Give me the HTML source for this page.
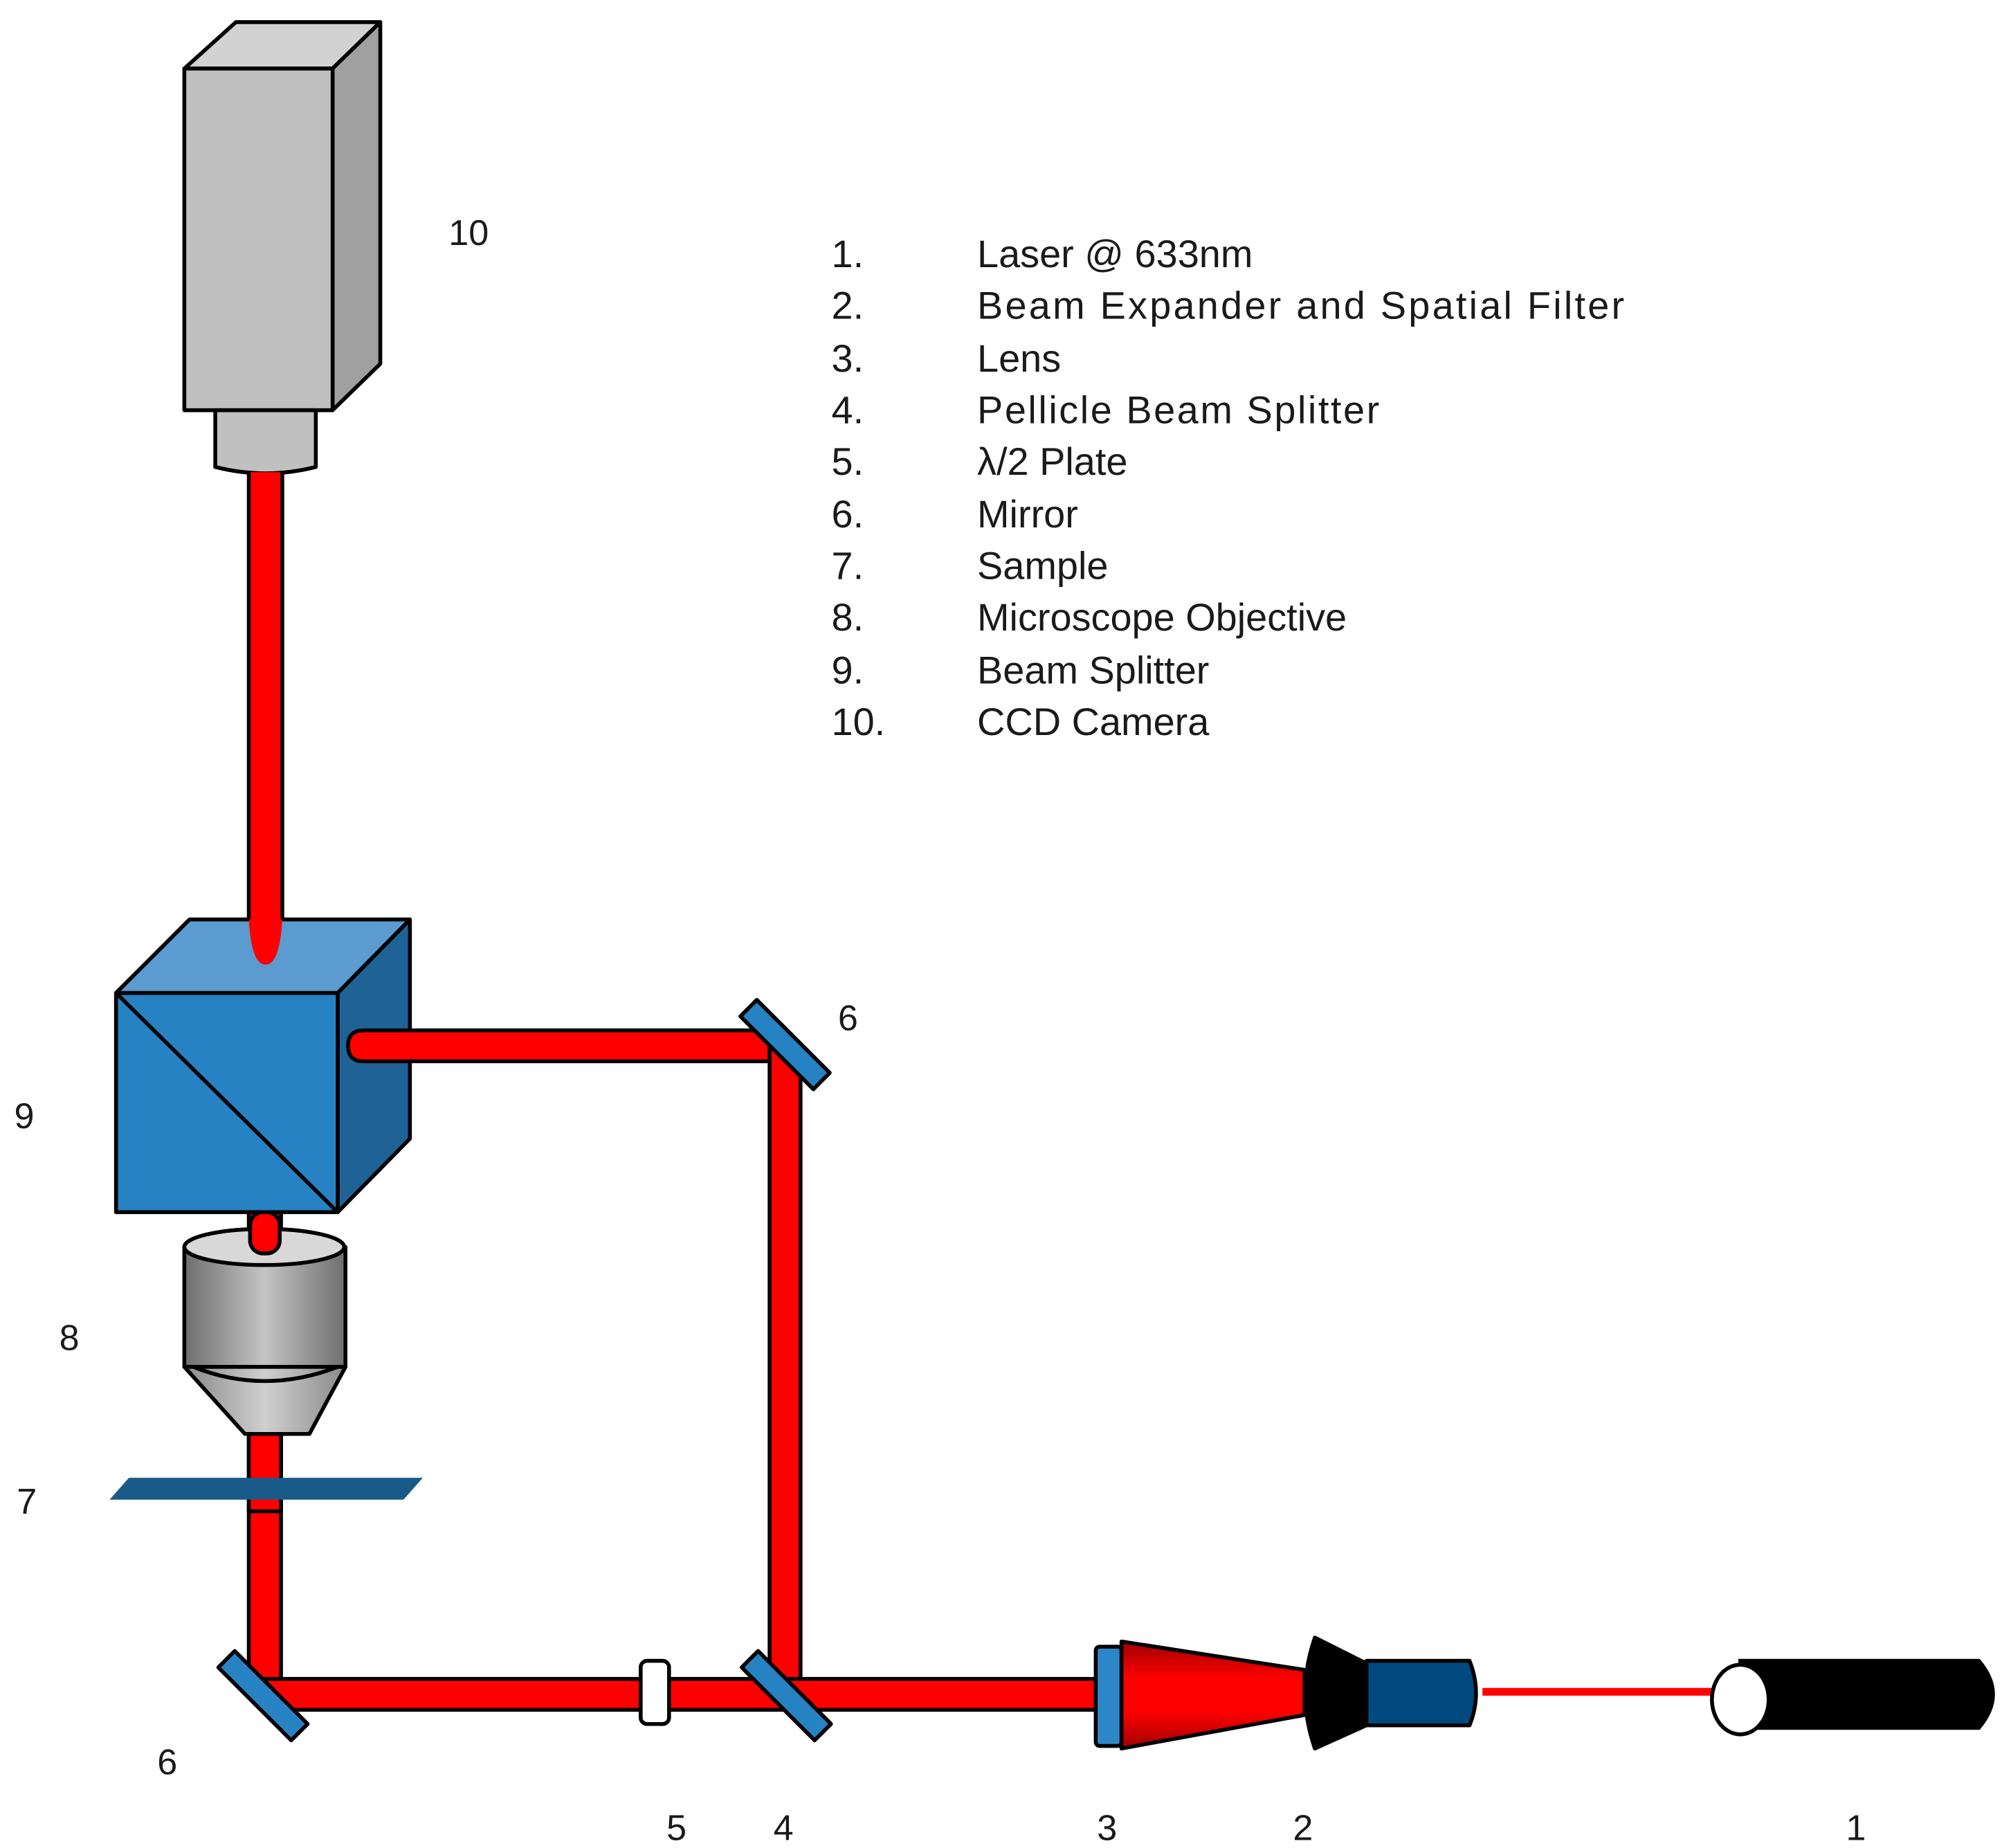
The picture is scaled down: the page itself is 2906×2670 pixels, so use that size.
<!DOCTYPE html>
<html><head><meta charset="utf-8"><style>
html,body{margin:0;padding:0;background:#fff;}
svg{display:block;}
text{font-family:"Liberation Sans",sans-serif;fill:#1a1a1a;}
</style></head><body>
<svg width="2906" height="2670" viewBox="0 0 1560 1433" xmlns="http://www.w3.org/2000/svg">
<defs>
<linearGradient id="cyl" x1="0" x2="1" y1="0" y2="0">
<stop offset="0" stop-color="#6e6e6e"/><stop offset="0.5" stop-color="#c4c4c4"/><stop offset="1" stop-color="#6e6e6e"/></linearGradient>
<linearGradient id="cone" x1="0" x2="1"><stop offset="0" stop-color="#8a8a8a"/><stop offset="0.5" stop-color="#cfcfcf"/><stop offset="1" stop-color="#8a8a8a"/></linearGradient>
<linearGradient id="redc" x1="0" x2="0" y1="0" y2="1"><stop offset="0" stop-color="#a00000"/><stop offset="0.35" stop-color="#ff0000"/><stop offset="0.65" stop-color="#ff0000"/><stop offset="1" stop-color="#a00000"/></linearGradient>
</defs>
<g stroke="#000" stroke-width="3" stroke-linejoin="round">
<!-- camera -->
<polygon points="143,53 183,17 295,17 258,53" fill="#d2d2d2"/>
<polygon points="258,53 295,17 295,282 258,318" fill="#a0a0a0"/>
<rect x="143" y="53" width="115" height="265" fill="#c0c0c0"/>
<path d="M167,318 L245,318 L245,362 Q206,372 167,362 Z" fill="#c0c0c0"/>
<!-- left lower vertical beam -->
<rect x="193" y="935" width="25" height="380" fill="#ff0000"/>
<!-- cube -->
<polygon points="90,770 147,713 318,713 262,770" fill="#5b9bd0"/>
<polygon points="262,770 318,713 318,883 262,940" fill="#1f6296"/>
<rect x="90" y="770" width="172" height="170" fill="#2682c2"/>
<line x1="90" y1="770" x2="262" y2="940"/>
<!-- vertical beam from camera into cube -->
<path d="M193,366 L219,366 L219,713 Q217,748 206,748 Q195,748 193,713 Z" fill="#ff0000" stroke="none"/>
<path d="M193,366 L193,713 M219,366 L219,713" fill="none"/>
<!-- upper horizontal beam -->
<path d="M282,799 L609,799 L609,823 L282,823 Q270,823 270,811 Q270,799 282,799 Z" fill="#ff0000"/>
<!-- right vertical beam -->
<rect x="597" y="811" width="24" height="503" fill="#ff0000"/>
<!-- bottom horizontal beam -->
<rect x="205" y="1302" width="650" height="24" fill="#ff0000"/>
<!-- objective -->
<path d="M143,967 L268,967 L268,1060 L143,1060 Z" fill="url(#cyl)"/>
<ellipse cx="205" cy="967" rx="62" ry="14" fill="#d8d8d8"/>
<rect x="194" y="940" width="23" height="32" rx="10" fill="#ff0000" stroke="#000"/>
<path d="M143,1060 L268,1060 L240,1112 L190,1112 Z" fill="url(#cone)"/>
<path d="M150,1060 Q205,1082 262,1060" fill="none"/>
<!-- sample -->
<rect x="193" y="1112" width="25" height="60" fill="#ff0000"/>
<polygon points="85,1163 100,1146 328,1146 313,1163" fill="#1a5a88" stroke="none"/>
<!-- mirrors -->
<rect x="569" y="801" width="80" height="18" fill="#2682c2" transform="rotate(45 609 810)"/>
<rect x="164" y="1306" width="80" height="18" fill="#2682c2" transform="rotate(45 204 1315)"/>
<rect x="570" y="1306" width="80" height="18" fill="#2682c2" transform="rotate(45 610 1315)"/>
<!-- plate 5 -->
<rect x="497" y="1288" width="22" height="49" rx="5" fill="#fff"/>
<!-- lens 3 -->
<rect x="850" y="1277" width="20" height="77" rx="3" fill="#2d86c8"/>
<!-- red cone -->
<polygon points="870,1273 1012,1295 1012,1330 870,1356" fill="url(#redc)"/>
<!-- spatial filter -->
<path d="M1020,1270 L1060,1290 L1060,1338 L1020,1356 Q1005,1313 1020,1270 Z" fill="#000"/>
<path d="M1060,1288 L1140,1288 Q1150,1313 1140,1338 L1060,1338 Z" fill="#004a80"/>
</g>
<!-- thin laser beam -->
<rect x="1150" y="1309" width="185" height="6" fill="#ff0000"/>
<!-- laser -->
<path d="M1350,1288 L1535,1288 Q1557,1314 1535,1340 L1350,1340 Z" fill="#000" stroke="#000" stroke-width="3"/>
<ellipse cx="1350" cy="1318" rx="22" ry="27" fill="#fff" stroke="#000" stroke-width="3"/>
<!-- labels -->
<g font-size="28">
<text x="348" y="190">10</text>
<text x="650" y="799">6</text>
<text x="11" y="875">9</text>
<text x="46" y="1047">8</text>
<text x="13" y="1174">7</text>
<text x="122" y="1376">6</text>
<text x="517" y="1427">5</text>
<text x="600" y="1427">4</text>
<text x="851" y="1427">3</text>
<text x="1003" y="1427">2</text>
<text x="1432" y="1427">1</text>
</g>
<g font-size="30">
<text x="645" y="207">1.</text><text x="758" y="207">Laser @ 633nm</text>
<text x="645" y="247">2.</text><text x="758" y="247" textLength="502">Beam Expander and Spatial Filter</text>
<text x="645" y="288">3.</text><text x="758" y="288">Lens</text>
<text x="645" y="328">4.</text><text x="758" y="328" textLength="312">Pellicle Beam Splitter</text>
<text x="645" y="368">5.</text><text x="758" y="368">λ/2 Plate</text>
<text x="645" y="409">6.</text><text x="758" y="409">Mirror</text>
<text x="645" y="449">7.</text><text x="758" y="449">Sample</text>
<text x="645" y="489">8.</text><text x="758" y="489">Microscope Objective</text>
<text x="645" y="530">9.</text><text x="758" y="530">Beam Splitter</text>
<text x="645" y="570">10.</text><text x="758" y="570">CCD Camera</text>
</g>
</svg>
</body></html>
